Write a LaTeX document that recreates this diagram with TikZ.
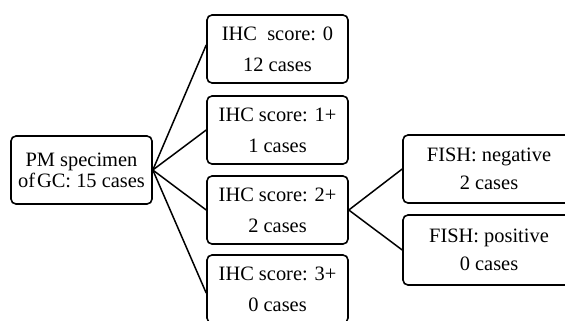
\documentclass[tikz,border=0pt]{standalone}
\usepackage{fontspec}
\setmainfont{Liberation Serif}
\tikzset{
  casebox/.style={draw, rounded corners=5bp, line width=1.6bp, minimum height=68bp,
    inner sep=0pt, align=center, font=\fontsize{20.5}{31}\selectfont},
  branch/.style={black, line width=1.5bp},
}
\begin{document}
\begin{tikzpicture}[x=1bp, y=-1bp]
    \useasboundingbox (0, 0) rectangle (565, 320);

    \coordinate (R) at (81.5, 170);
    \coordinate (I1) at (277.5, 49);
    \coordinate (I2) at (277.5, 130);
    \coordinate (I3) at (277.5, 210);
    \coordinate (I4) at (277.5, 289);
    \coordinate (F1) at (489, 169);
    \coordinate (F2) at (489, 250);

    \node [casebox, minimum width=141bp, font=\fontsize{20.5}{21}\selectfont] (root) at (R) {PM specimen\\of\kern2pt GC: 15 cases};

    \node [casebox, minimum width=141bp] (ihc0) at (I1) {IHC\ \ score: 0\\12 cases};
    \node [casebox, minimum width=141bp] (ihc1) at (I2) {IHC score: 1+\\1 cases};
    \node [casebox, minimum width=141bp] (ihc2) at (I3) {IHC score: 2+\\2 cases};
    \node [casebox, minimum width=141bp] (ihc3) at (I4) {IHC score: 3+\\0 cases};

    \node [casebox, minimum width=172bp, minimum height=68bp, font=\fontsize{20.5}{28}\selectfont] (fishneg) at (F1) {FISH: negative\\2 cases};
    \node [casebox, minimum width=172bp, minimum height=70bp, font=\fontsize{20.5}{28}\selectfont] (fishpos) at (F2) {FISH: positive\\0 cases};

    \draw [branch] (root.east) to ([yshift=4bp]ihc0.west);
    \draw [branch] (root.east) to (ihc1.west);
    \draw [branch] (root.east) to (ihc2.west);
    \draw [branch] (root.east) to ([yshift=-4bp]ihc3.west);
    \draw [branch] (ihc2.east) to (fishneg.west);
    \draw [branch] (ihc2.east) to (fishpos.west);
  \end{tikzpicture}
\end{document}
